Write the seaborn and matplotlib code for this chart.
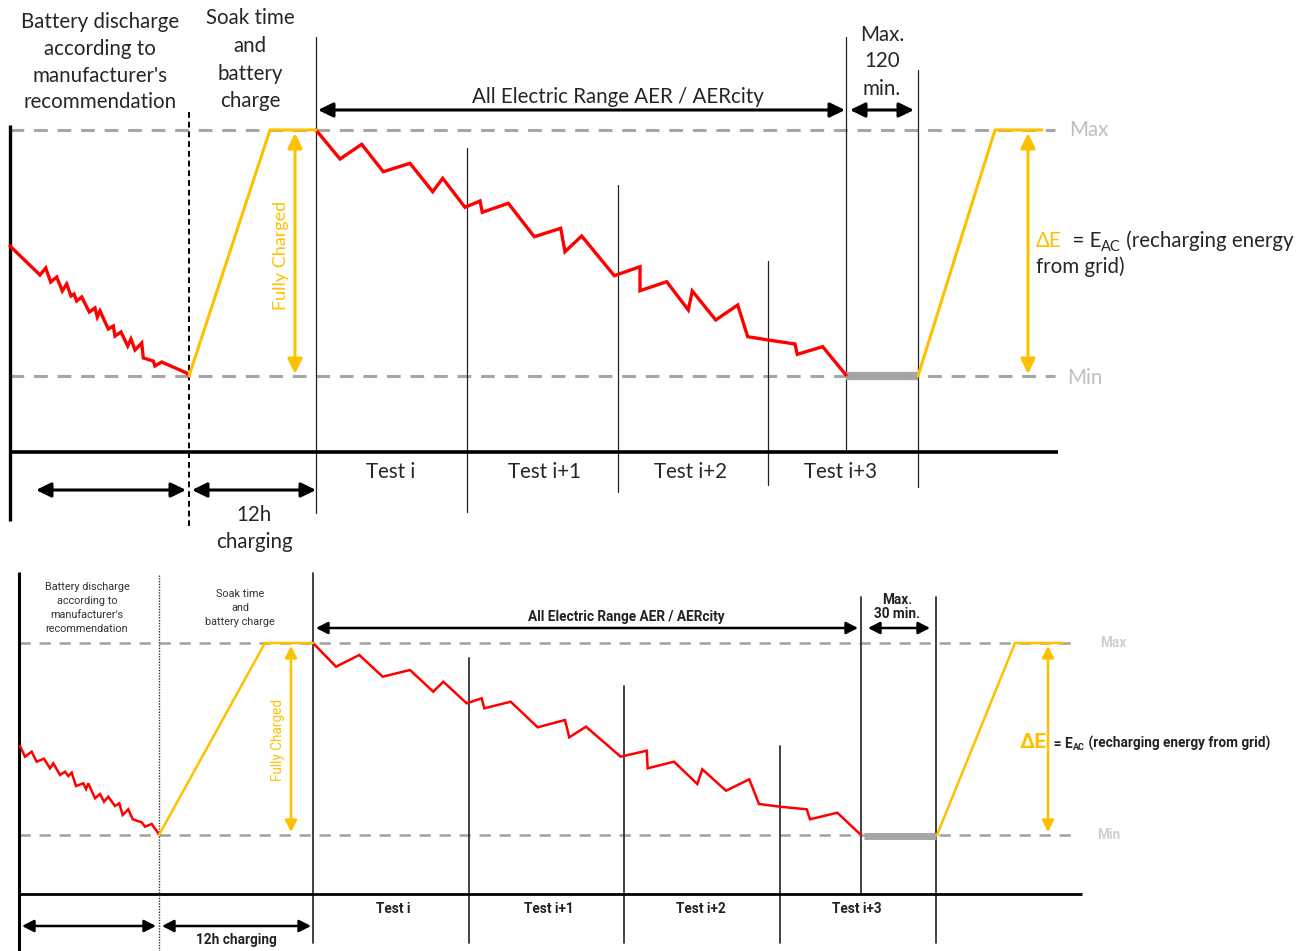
import matplotlib
matplotlib.use("Agg")
import matplotlib.pyplot as plt
import seaborn as sns
import pandas as pd

sns.set_theme(style="white")
plt.rcParams["font.family"] = ["Lato", "DejaVu Sans"]

RED = "#FF0000"
AMBER = "#FFC000"
GREY = "#A6A6A6"

# ---------------- upper panel (WLTP style, 120 min) ----------------
top_pre_x = [10, 40, 45.7, 50.7, 56.7, 62.3, 66.7, 71, 74, 76.7, 81.7, 89.3, 95, 97.3, 100,
             108.3, 113.3, 115, 121, 127.7, 131, 135, 141.7, 143.3, 153.3, 155, 161.7, 186.7, 189]
top_pre_y = [246, 275, 268, 282, 277, 291, 284, 296, 294, 301, 297, 312, 308, 317, 311,
             329, 326, 336, 332, 346, 339, 350, 343, 358, 361, 366, 362, 373, 376]
top_run_x = [316, 340, 361.7, 383.3, 410, 432.7, 442.7, 465, 480, 482.3, 508.3, 534.3, 560.7,
             565, 581.7, 614.3, 640, 640, 666.7, 688.3, 692.3, 715.7, 737.7, 747.7, 768.3,
             795, 797.3, 822.7, 846]
top_run_y = [130, 159, 144.3, 171.7, 163.3, 191.7, 178.3, 207.3, 201, 212.3, 203.3, 236.7, 228.3,
             251.7, 236, 275.7, 266.7, 290.7, 281.7, 310, 291, 320, 305, 336.7, 340,
             344, 354.3, 346.7, 375]
top_charge_x = [189, 270, 316]
top_charge_y = [376, 130, 130]
top_recharge_x = [918, 995, 1042]
top_recharge_y = [376, 130, 130]
top_max_y, top_min_y = 130, 376
top_tests = ["Test i", "Test i+1", "Test i+2", "Test i+3"]
top_test_x = [391, 544, 691, 841]
top_dividers = [(316, 37, 513), (467, 148, 512), (618, 185, 492), (768, 261, 485),
                (846, 37, 452), (918, 70, 487)]

# ---------------- lower panel (NEDC style, 30 min) ----------------
bot_pre_x = [20, 25, 31.7, 36.7, 44, 50, 53.3, 60, 65, 68.3, 71.7, 76, 83.3, 86, 88.3, 95, 100,
             104, 108.3, 115, 119.3, 122.7, 128.3, 132.7, 141.7, 145, 151.7, 158.3, 159]
bot_pre_y = [746, 756.7, 751.7, 761.7, 758.7, 768.3, 763.3, 775, 771.7, 776, 772.7, 786, 783.3,
             789, 783.3, 798.3, 794, 801.7, 796.7, 806, 803.3, 815, 809.3, 819.3, 822.3, 826.7,
             824, 833.3, 835]
bot_run_x = [313, 336, 359.3, 382.7, 410, 433.3, 443.3, 466.7, 481.7, 484.3, 510.7, 537.7, 565,
             569.3, 586, 620.7, 646.7, 647.7, 674, 697.3, 702.3, 726, 749.3, 759, 780, 806.7,
             810, 837.3, 861]
bot_run_y = [643, 666.7, 655, 676.7, 670, 691.7, 681.7, 703.3, 698.3, 708.3, 701.7, 727.3, 720,
             737.3, 726.7, 756.7, 750.7, 768.3, 761.7, 784, 769.3, 790.7, 779.3, 804, 806.7,
             809.3, 819.3, 812.7, 835]
bot_charge_x = [159, 265, 313]
bot_charge_y = [835, 643, 643]
bot_recharge_x = [937, 1015, 1063]
bot_recharge_y = [835, 643, 643]
bot_max_y, bot_min_y = 643, 835
bot_tests = ["Test i", "Test i+1", "Test i+2", "Test i+3"]
bot_test_x = [393, 549, 701, 857]
bot_dividers = [(313, 573, 943), (469, 658, 943), (624, 686, 943), (780, 746, 943),
                (861, 597, 894), (936, 597, 943)]

fig = plt.figure(figsize=(13.04, 9.51), dpi=100)
ax = fig.add_axes([0, 0, 1, 1])
ax.set_xlim(0, 1304)
ax.set_ylim(951, 0)
ax.axis("off")


def trace(xs, ys, color, lw):
    df = pd.DataFrame({"x": xs, "y": ys, "order": range(len(xs))})
    sns.lineplot(data=df, x="x", y="y", sort=False, estimator=None, color=color,
                 lw=lw, ax=ax, solid_joinstyle="miter", zorder=4)


def harrow(x0, x1, y, color="black", lw=2.2, hl=0.45, hw=0.22, ms=20):
    ax.annotate("", xy=(x1, y), xytext=(x0, y),
                arrowprops=dict(arrowstyle=f"<|-|>,head_length={hl},head_width={hw}",
                                lw=lw, color=color, shrinkA=0, shrinkB=0,
                                mutation_scale=ms), zorder=5)


def varrow(x, y0, y1, color=AMBER, lw=2.2, hl=0.45, hw=0.22, ms=20):
    ax.annotate("", xy=(x, y1), xytext=(x, y0),
                arrowprops=dict(arrowstyle=f"<|-|>,head_length={hl},head_width={hw}",
                                lw=lw, color=color, shrinkA=0, shrinkB=0,
                                mutation_scale=ms), zorder=5)


def chain(x, y, parts):
    """Write text fragments one after another on a shared baseline."""
    fig.canvas.draw()
    r = fig.canvas.get_renderer()
    for txt, kw in parts:
        dy = kw.pop("dy", 0)
        t = ax.text(x, y + dy, txt, va="baseline", ha="left", **kw)
        x += t.get_window_extent(renderer=r).width


# ================= upper panel =================
for yy in (top_max_y, top_min_y):
    ax.plot([10, 1055], [yy, yy], color=GREY, lw=2.2, dashes=(4.5, 3.2), zorder=1)
ax.plot([10, 10], [125, 521], color="black", lw=2.4, solid_capstyle="butt", zorder=3)
ax.plot([10, 1058], [452, 452], color="black", lw=2.6, solid_capstyle="butt", zorder=3)
ax.plot([189, 189], [112, 526], color="black", lw=1.4, dashes=(3, 2), zorder=3)
for x, y0, y1 in top_dividers:
    ax.plot([x, x], [y0, y1], color="#222222", lw=0.9, zorder=2)
ax.plot([846, 918], [376, 376], color=GREY, lw=6, solid_capstyle="butt", zorder=3)

trace(top_pre_x, top_pre_y, RED, 2.4)
trace(top_run_x, top_run_y, RED, 2.4)
trace(top_charge_x, top_charge_y, AMBER, 2.2)
trace(top_recharge_x, top_recharge_y, AMBER, 2.2)

varrow(295, 133, 374)
varrow(1028, 133, 374)
harrow(318, 845, 110)
harrow(850, 914, 110)
harrow(36, 186, 490)
harrow(192, 316, 490)

fs = 14.8
for s, yy in zip(["Battery discharge", "according to", "manufacturer's", "recommendation"],
                 [22, 49, 76, 102]):
    ax.text(100, yy, s, ha="center", va="center", fontsize=fs)
for s, yy in zip(["Soak time", "and", "battery", "charge"], [18, 46, 74, 101]):
    ax.text(250, yy, s, ha="center", va="center", fontsize=fs)
for s, yy in zip(["Max.", "120", "min."], [35, 61, 89]):
    ax.text(882, yy, s, ha="center", va="center", fontsize=fs)
ax.text(618, 97, "All Electric Range AER / AERcity", ha="center", va="center", fontsize=fs)
for s, yy in zip(["12h", "charging"], [515, 542]):
    ax.text(254, yy, s, ha="center", va="center", fontsize=fs)
for s, xx in zip(top_tests, top_test_x):
    ax.text(xx, 472, s, ha="center", va="center", fontsize=fs)
ax.text(281, 255, "Fully Charged", rotation=90, ha="center", va="center",
        fontsize=13, color=AMBER)
ax.text(1069, 130, "Max", ha="left", va="center", fontsize=fs, color="#BFBFBF")
ax.text(1067, 378, "Min", ha="left", va="center", fontsize=fs, color="#BFBFBF")
chain(1036, 247, [("ΔE", dict(fontsize=fs, color=AMBER)),
                  ("  = E", dict(fontsize=fs)),
                  ("AC", dict(fontsize=10.5, dy=4)),
                  (" (recharging energy", dict(fontsize=fs))])
ax.text(1036, 273, "from grid)", ha="left", va="baseline", fontsize=fs)

# ================= lower panel =================
for yy in (bot_max_y, bot_min_y):
    ax.plot([19, 1078], [yy, yy], color="#A0A0A0", lw=1.8, dashes=(4.5, 3.5), zorder=1)
ax.plot([19, 19], [572, 951], color="black", lw=2.2, solid_capstyle="butt", zorder=3)
ax.plot([19, 1082], [894, 894], color="black", lw=2.0, solid_capstyle="butt", zorder=3)
ax.plot([159, 159], [575, 951], color="#333333", lw=1.0, dashes=(1, 1), zorder=3)
for x, y0, y1 in bot_dividers:
    ax.plot([x, x], [y0, y1], color="#333333", lw=1.3, zorder=2)
ax.plot([864, 936], [836, 836], color=GREY, lw=5, solid_capstyle="butt", zorder=3)

trace(bot_pre_x, bot_pre_y, RED, 1.8)
trace(bot_run_x, bot_run_y, RED, 1.8)
trace(bot_charge_x, bot_charge_y, AMBER, 1.8)
trace(bot_recharge_x, bot_recharge_y, AMBER, 1.8)

varrow(291, 646, 832, lw=1.8, hl=0.35, hw=0.18)
varrow(1048, 646, 832, lw=1.8, hl=0.35, hw=0.18)
harrow(316, 858, 628, lw=1.8, hl=0.35, hw=0.18)
harrow(868, 930, 628, lw=1.8, hl=0.35, hw=0.18)
harrow(22, 156, 926, lw=1.8, hl=0.35, hw=0.18)
harrow(162, 311, 926, lw=1.8, hl=0.35, hw=0.18)

sm = dict(family=["Roboto", "DejaVu Sans"])
bf = 9.8
for s, yy in zip(["Battery discharge", "according to", "manufacturer's", "recommendation"],
                 [587, 601, 615, 629]):
    ax.text(87, yy, s, ha="center", va="center", fontsize=7.8, color="#333333", **sm)
for s, yy in zip(["Soak time", "and", "battery charge"], [594, 608, 622]):
    ax.text(240, yy, s, ha="center", va="center", fontsize=7.8, color="#333333", **sm)
ax.text(626, 617, "All Electric Range AER / AERcity", ha="center", va="center",
        fontsize=bf, fontweight="bold", color="#222222", **sm)
for s, yy in zip(["Max.", "30 min."], [600, 614]):
    ax.text(897, yy, s, ha="center", va="center", fontsize=bf, fontweight="bold",
            color="#222222", **sm)
ax.text(236, 940, "12h charging", ha="center", va="center", fontsize=bf,
        fontweight="bold", color="#222222", **sm)
for s, xx in zip(bot_tests, bot_test_x):
    ax.text(xx, 909, s, ha="center", va="center", fontsize=bf, fontweight="bold",
            color="#222222", **sm)
ax.text(278, 740, "Fully Charged", rotation=90, ha="center", va="center",
        fontsize=bf, color=AMBER, **sm)
ax.text(1100, 643, "Max", ha="left", va="center", fontsize=bf, fontweight="bold",
        color="#CFCFCF", **sm)
ax.text(1097, 835, "Min", ha="left", va="center", fontsize=bf, fontweight="bold",
        color="#CFCFCF", **sm)
chain(1020, 748, [("ΔE", dict(fontsize=15, fontweight="bold", color=AMBER, **sm)),
                  ("  = E", dict(fontsize=bf, fontweight="bold", color="#222222", **sm)),
                  ("AC", dict(fontsize=6.5, fontweight="bold", color="#222222", dy=2, **sm)),
                  (" (recharging energy from grid)",
                   dict(fontsize=bf, fontweight="bold", color="#222222", **sm))])

fig.savefig("out.png", dpi=100, facecolor="white")
